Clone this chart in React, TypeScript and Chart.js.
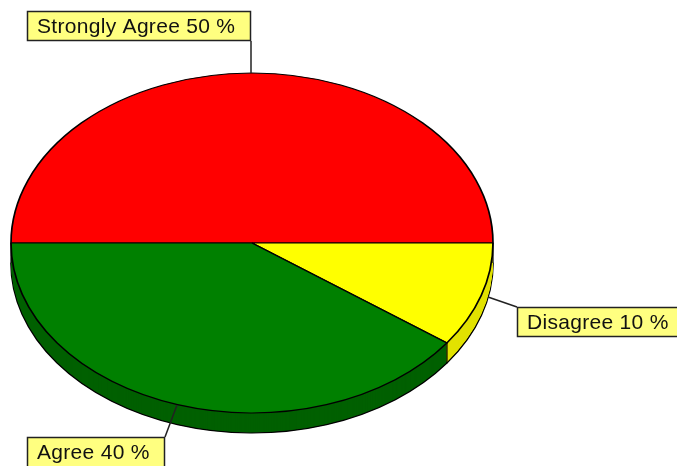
import React, { useEffect, useRef } from "react";
import { Chart, registerables } from "chart.js";

Chart.register(...registerables);

const categories = ["Strongly Agree", "Disagree", "Agree"];
const shares = [50, 10, 40];
const topColors = ["#ff0000", "#ffff00", "#008000"];
const sideColors = ["", "#e2e200", "#006000"];

const RATIO = 170 / 241;
const DEPTH = 20;

const boxes = [
  { x: 27, y: 11, w: 224, h: 30, lx1: 251, ly1: 41, lx2: 251, ly2: 73 },
  { x: 517, y: 307, w: 170, h: 30, lx1: 517, ly1: 307, lx2: 488, ly2: 297 },
  { x: 27, y: 437, w: 138, h: 40, lx1: 165, ly1: 437, lx2: 177, ly2: 405 },
];

const squash = {
  id: "squash",
  beforeDatasetsDraw(chart: any) {
    const ctx = chart.ctx;
    const arcs = chart.getDatasetMeta(0).data;
    const { x, y } = arcs[0];
    ctx.save();
    ctx.translate(x, y);
    ctx.scale(1, RATIO);
    ctx.translate(-x, -y);

    for (let d = DEPTH; d >= 1; d--) {
      arcs.forEach((arc: any, i: number) => {
        if (!sideColors[i]) return;
        const saved = arc.options;
        ctx.save();
        ctx.translate(0, d / RATIO);
        arc.options = {
          ...saved,
          backgroundColor: sideColors[i],
          borderColor: "#000000",
          borderWidth: d === DEPTH ? 1.7 : 0,
        };
        arc.draw(ctx);
        arc.options = saved;
        ctx.restore();
      });
    }
  },
  afterDatasetsDraw(chart: any) {
    const ctx = chart.ctx;
    ctx.restore();
    const arcs = chart.getDatasetMeta(0).data;
    const { x, y, outerRadius: r } = arcs[0];

    // vertical edges of the wall, at the slice borders that face the viewer
    ctx.strokeStyle = "#000000";
    ctx.lineWidth = 1.2;
    arcs.forEach((arc: any) => {
      const a = arc.endAngle;
      const px = x + r * Math.cos(a);
      const py = y + r * RATIO * Math.sin(a);
      if (Math.sin(a) >= -0.01) {
        ctx.beginPath();
        ctx.moveTo(px, py);
        ctx.lineTo(px, py + DEPTH);
        ctx.stroke();
      }
    });

    // label boxes and leaders
    ctx.font = "21px 'Liberation Sans'";
    (ctx as any).letterSpacing = "0.3px";
    ctx.textBaseline = "middle";
    ctx.textAlign = "left";
    boxes.forEach((b, i) => {
      ctx.strokeStyle = "#222222";
      ctx.lineWidth = 1.5;
      ctx.beginPath();
      ctx.moveTo(b.lx1, b.ly1);
      ctx.lineTo(b.lx2, b.ly2);
      ctx.stroke();
      ctx.fillStyle = "#ffff80";
      ctx.fillRect(b.x, b.y, b.w, b.h);
      ctx.strokeRect(b.x + 0.5, b.y + 0.5, b.w - 1, b.h - 1);
      ctx.fillStyle = "#111111";
      ctx.fillText(`${categories[i]} ${shares[i]} %`, b.x + 10, b.y + 16);
    });
  },
};

export default function App() {
  const ref = useRef<HTMLCanvasElement>(null);
  useEffect(() => {
    const chart = new Chart(ref.current!, {
      type: "pie",
      data: {
        labels: categories,
        datasets: [
          {
            data: shares,
            backgroundColor: topColors,
            borderColor: "#000000",
            borderWidth: 1.7,
          },
        ],
      },
      options: {
        responsive: false,
        animation: false,
        devicePixelRatio: 1,
        rotation: -90,
        radius: 241,
        layout: { padding: { left: 11, right: 184, top: 20, bottom: 0 } },
        plugins: { legend: { display: false }, tooltip: { enabled: false } },
      },
      plugins: [squash],
    } as any);
    return () => chart.destroy();
  }, []);
  return (
    <canvas
      ref={ref}
      width={677}
      height={466}
      style={{ position: "absolute", left: 0, top: 0, background: "#ffffff" }}
    />
  );
}
